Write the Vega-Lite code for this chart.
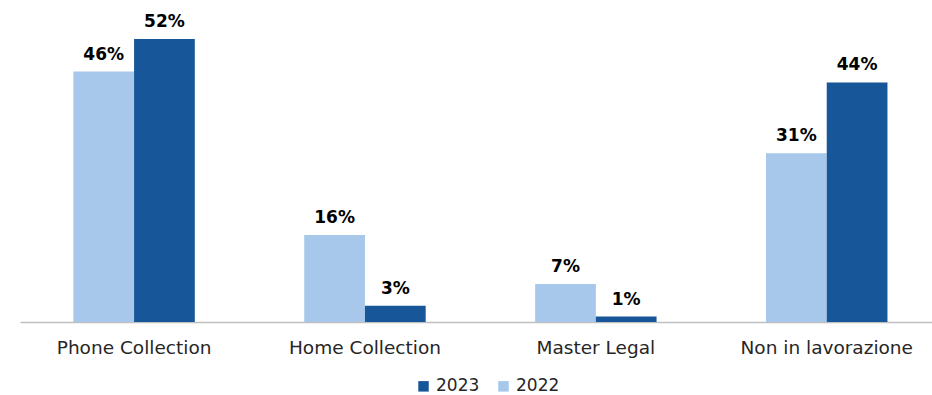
{
  "$schema": "https://vega.github.io/schema/vega-lite/v6.json",
  "width": 912,
  "height": 299.4,
  "autosize": "none",
  "padding": {"left": 20, "top": 22.6, "right": 0, "bottom": 73},
  "background": "white",
  "config": {"view": {"stroke": null}, "font": "DejaVu Sans"},
  "data": {
    "values": [
      {"category": "Phone Collection", "year": "2022", "value": 0.46},
      {"category": "Phone Collection", "year": "2023", "value": 0.52},
      {"category": "Home Collection", "year": "2022", "value": 0.16},
      {"category": "Home Collection", "year": "2023", "value": 0.03},
      {"category": "Master Legal", "year": "2022", "value": 0.07},
      {"category": "Master Legal", "year": "2023", "value": 0.01},
      {"category": "Non in lavorazione", "year": "2022", "value": 0.31},
      {"category": "Non in lavorazione", "year": "2023", "value": 0.44}
    ]
  },
  "encoding": {
    "x": {
      "field": "category",
      "type": "nominal",
      "sort": null,
      "scale": {"paddingInner": 0.474, "paddingOuter": 0.212, "align": 0.545},
      "axis": {
        "title": null,
        "labelAngle": 0,
        "labelFontSize": 18.5,
        "labelColor": "#262626",
        "labelPadding": 16,
        "ticks": false,
        "domainColor": "#BFBFBF",
        "domainWidth": 1.5,
        "grid": false
      }
    },
    "xOffset": {"field": "year", "type": "nominal", "sort": ["2022", "2023"]},
    "y": {
      "field": "value",
      "type": "quantitative",
      "scale": {"domain": [0, 0.55]},
      "axis": null
    }
  },
  "layer": [
    {
      "mark": {"type": "bar"},
      "encoding": {
        "color": {
          "field": "year",
          "type": "nominal",
          "scale": {"domain": ["2023", "2022"], "range": ["#175799", "#A7C8EA"]},
          "legend": {
            "title": null,
            "orient": "none",
            "direction": "horizontal",
            "legendX": 395,
            "legendY": 355,
            "symbolType": "square",
            "symbolSize": 110,
            "symbolStrokeWidth": 0,
            "labelFontSize": 17,
            "labelColor": "#262626",
            "labelOffset": 4,
            "columnPadding": 15
          }
        }
      }
    },
    {
      "mark": {"type": "text", "baseline": "alphabetic", "dy": -12, "fontSize": 17, "fontWeight": "bold", "color": "#000000"},
      "encoding": {
        "text": {"field": "value", "type": "quantitative", "format": ".0%"},
        "detail": {"field": "year"}
      }
    }
  ]
}
